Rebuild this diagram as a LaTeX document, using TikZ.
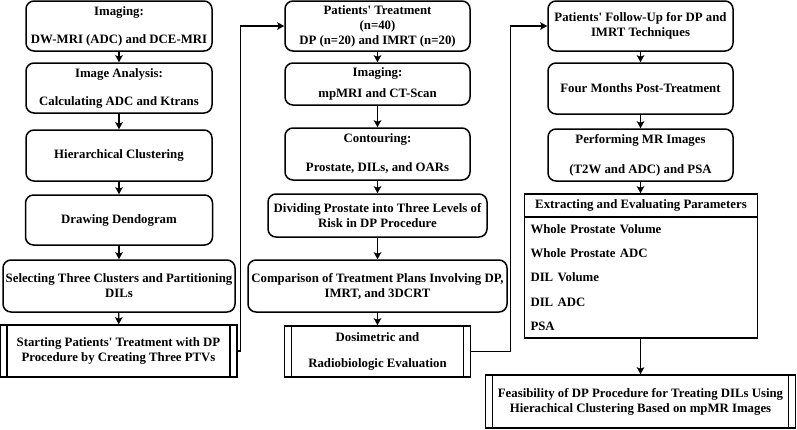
\documentclass[tikz,border=0pt]{standalone}
\usepackage{fontspec}
\setmainfont{Liberation Serif}
\usetikzlibrary{arrows.meta}

\begin{document}
\begin{tikzpicture}[x=1pt, y=-1pt,
    box/.style={draw, line width=1.5pt, align=center, inner sep=2pt,
        font=\fontsize{12.8}{15}\selectfont\bfseries},
    rbox/.style={box, rounded corners=8pt},
    pbox/.style={box, path picture={
        \draw[line width=1.5pt] ([xshift=7pt]path picture bounding box.north west) -- ([xshift=7pt]path picture bounding box.south west);
        \draw[line width=1.5pt] ([xshift=-7pt]path picture bounding box.north east) -- ([xshift=-7pt]path picture bounding box.south east);}},
    arr/.style={-{Stealth[length=7pt, width=7.5pt, inset=1.5pt]}, line width=1.4pt}]
    \useasboundingbox (0,0) rectangle (797,429);

    % First column
    \node[rbox, minimum width=186, minimum height=50] (img1) at (119,26) {Imaging:\\[13pt]DW-MRI (ADC) and DCE-MRI};
    \node[rbox, minimum width=186, minimum height=50] (anal) at (119,88) {Image Analysis:\\[13pt]Calculating ADC and Ktrans};
    \node[rbox, minimum width=186, minimum height=51] (hclust) at (119,155.5) {Hierarchical Clustering};
    \node[rbox, minimum width=187, minimum height=50] (dendo) at (119,220) {Drawing Dendogram};
    \node[rbox, minimum width=232, minimum height=52, inner sep=0pt] (select) at (119,286) {Selecting Three Clusters and Partitioning\\DILs};
    \node[pbox, minimum width=237, minimum height=52] (start) at (118.5,351) {Starting Patients\textquotesingle{} Treatment with DP\\Procedure by Creating Three PTVs};

    % Second column
    \node[rbox, minimum width=185, minimum height=50] (treat) at (377.5,26) {Patients\textquotesingle{} Treatment\\(n=40)\\DP (n=20) and IMRT (n=20)};
    \node[rbox, minimum width=185, minimum height=42] (img2) at (377.5,84) {Imaging:\\[6pt]mpMRI and CT-Scan};
    \node[rbox, minimum width=185, minimum height=52] (contour) at (377.5,154) {Contouring:\\[14pt]Prostate, DILs, and OARs};
    \node[rbox, minimum width=219, minimum height=43] (levels) at (377.5,215.5) {Dividing Prostate into Three Levels of\\Risk in DP Procedure};
    \node[rbox, minimum width=259, minimum height=52] (plans) at (377.5,286) {Comparison of Treatment Plans Involving DP,\\IMRT, and 3DCRT};
    \node[pbox, minimum width=186, minimum height=51] (dosim) at (377.5,351.5) {Dosimetric and\\[11pt]Radiobiologic Evaluation};

    % Third column
    \node[rbox, minimum width=185, minimum height=50] (follow) at (640.5,26) {Patients\textquotesingle{} Follow-Up for DP and\\IMRT Techniques};
    \node[rbox, minimum width=185, minimum height=51] (months) at (640.5,88.5) {Four Months Post-Treatment};
    \node[rbox, minimum width=185, minimum height=52] (mrimg) at (640.5,155) {Performing MR Images\\[15pt](T2W and ADC) and PSA};
    \node[box, minimum width=233, minimum height=23, inner sep=0pt] (params) at (641,205.5) {Extracting and Evaluating Parameters};
    \node[box, text width=221, inner xsep=6pt, minimum height=121, align=left] (paramlist) at (641,277.5)
        {Whole Prostate Volume\\[9.3pt]Whole Prostate ADC\\[9.3pt]DIL Volume\\[9.3pt]DIL ADC\\[9.3pt]PSA};
    \node[pbox, minimum width=310, minimum height=53, inner sep=0pt] (feas) at (640.5,401.5) {Feasibility of DP Procedure for Treating DILs Using\\Hierachical Clustering Based on mpMR Images};

    % Arrows
    \draw[arr] (img1) -- (anal);
    \draw[arr] (anal) -- (hclust);
    \draw[arr] (hclust) -- (dendo);
    \draw[arr] (dendo) -- (select);
    \draw[arr] (select) -- (start);
    \draw[arr] (treat) -- (img2);
    \draw[arr] (img2) -- (contour);
    \draw[arr] (contour) -- (levels);
    \draw[arr] (levels) -- (plans);
    \draw[arr] (plans) -- (dosim);
    \draw[arr] (follow) -- (months);
    \draw[arr] (months) -- (mrimg);
    \draw[arr] (mrimg.south) -- (mrimg.south |- params.north);
    \draw[arr] (paramlist.south -| feas.north) -- (feas.north);

    % Links between columns
    \draw[arr] (start.east) -- ++(3,0) |- (treat.west);
    \draw[arr] (dosim.east) -- ++(39,0) |- (follow.west);
\end{tikzpicture}
\end{document}
